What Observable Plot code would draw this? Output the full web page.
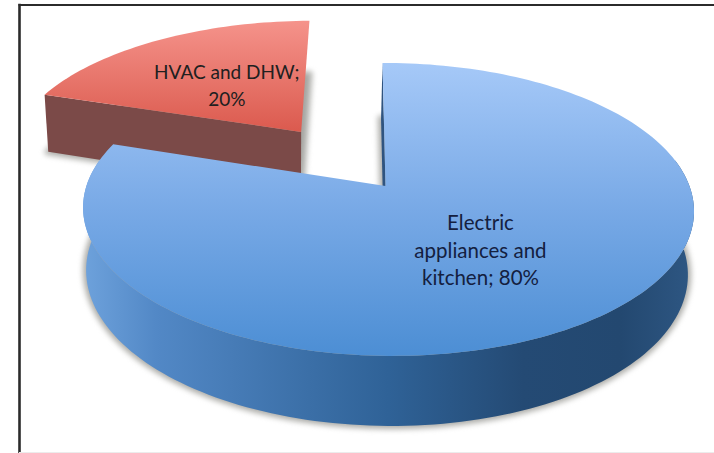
<!DOCTYPE html>
<html>
<head>
<meta charset="utf-8">
<script src="https://cdn.jsdelivr.net/npm/d3@7"></script>
<script src="https://cdn.jsdelivr.net/npm/@observablehq/plot@0.6"></script>
<style>
  html, body { margin: 0; padding: 0; background: #fff; }
  svg { display: block; }
</style>
</head>
<body>
<div id="chart"></div>
<script>
// Energy use by end use, as an exploded 3-D pie.
const shares = [20, 80];
const labels = [
  `HVAC and DHW;\n${shares[0]}%`,
  `Electric\nappliances and\nkitchen; ${shares[1]}%`
];
const explode = [0.5, 0];
const radii = [1.02, 1];

// Perspective of the tilted disc: the far side shrinks, the near side grows.
const tilt = 0.16, roll = -0.008, shear = 0.0115;
const yUnit = 142.7, xUnit = 301.5;          // px per plate unit at the centre
const thickness = 62;                        // px of wall height at w = 1

function project(u, v, lower = false) {
  const w = 1 + tilt * v + roll * u;
  let x = (u - shear * v) / w;
  let y = v / w;
  if (lower) {
    x = x * 0.985 - 1.5 / xUnit;
    y -= thickness / Math.pow(w, 0.7) / yUnit;
  }
  return {x, y};
}

const total = d3.sum(shares);
const firstAngle = -2 * Math.PI * shares[0] / total;
const arcs = d3.pie().sort(null).startAngle(firstAngle).endAngle(2 * Math.PI + firstAngle)(shares);

const slices = arcs.map((a, i) => {
  const mid = (a.startAngle + a.endAngle) / 2;
  const ou = explode[i] * Math.sin(mid), ov = explode[i] * Math.cos(mid);
  const r = radii[i];
  const steps = Math.ceil((a.endAngle - a.startAngle) / (Math.PI / 120));
  const angles = d3.range(steps + 1).map(k => a.startAngle + (a.endAngle - a.startAngle) * k / steps);
  const rim = (lower, list = angles) => list.map(t => project(ou + r * Math.sin(t), ov + r * Math.cos(t), lower));
  const hub = lower => project(ou, ov, lower);
  const nearSide = angles.filter(t => Math.cos(t) < 0.2);
  const labelR = explode[i] + 0.5;
  return {
    top: [hub(false), ...rim(false), hub(false)],
    base: [hub(true), ...rim(true), hub(true)],
    wall: [...rim(false, nearSide), ...rim(true, nearSide).reverse()],
    side: [rim(false)[0], hub(false), hub(true), rim(true)[0]],
    label: {...project(labelR * Math.sin(mid), labelR * Math.cos(mid)), text: labels[i]}
  };
});

// Gradients that the slice fills refer to by id.
function gradients() {
  const defs = d3.create("svg:defs");
  const add = (id, horizontal, stops) => {
    const g = defs.append("linearGradient").attr("id", id)
      .attr("x1", 0).attr("y1", 0)
      .attr("x2", horizontal ? 1 : 0).attr("y2", horizontal ? 0 : 1);
    stops.forEach(([o, c]) => g.append("stop").attr("offset", o).attr("stop-color", c));
  };
  add("blueTop", false, [[0, "#a6c9f8"], [0.5, "#78a9e6"], [1, "#4c8ed4"]]);
  add("blueWall", true, [[0, "#6ea2dc"], [0.12, "#5288c6"], [0.5, "#2f6297"], [0.72, "#244a74"], [0.88, "#234870"], [1, "#2e5783"]]);
  add("redTop", false, [[0, "#f5938b"], [1, "#db5a4e"]]);
  return defs.node();
}

const polygon = (points, fill) => Plot.line(points, {x: "x", y: "y", fill, stroke: "none"});
const shadow = points => Plot.line(points, {
  x: "x", y: "y", stroke: "#a4a4a0", strokeWidth: 8, strokeOpacity: 0.65, fill: "#a4a4a0", imageFilter: "blur(2.5px)"
});

const [red, blue] = slices;

const chart = Plot.plot({
  width: 714,
  height: 453,
  marginLeft: 19,
  marginTop: 4.5,
  marginRight: 0,
  marginBottom: 1,
  x: {domain: [-366 / xUnit, 329 / xUnit], axis: null},
  y: {domain: [-266.5 / yUnit, 181 / yUnit], axis: null},
  marks: [
    gradients,
    Plot.frame({anchor: "left", stroke: "#2b2b2b", strokeWidth: 2.6, strokeOpacity: 1}),
    Plot.frame({anchor: "top", stroke: "#2b2b2b", strokeWidth: 1.8, strokeOpacity: 1}),
    Plot.frame({anchor: "bottom", stroke: "#ececec", strokeWidth: 1, strokeOpacity: 1}),
    shadow(red.base),
    shadow(blue.base),
    polygon(red.side, "#7b4a48"),
    polygon(red.top, "url(#redTop)"),
    polygon(blue.side, "#2f5480"),
    polygon(blue.wall, "url(#blueWall)"),
    polygon(blue.top, "url(#blueTop)"),
    Plot.text([red.label], {
      x: "x", y: "y", text: "text", fill: "#20201f",
      fontFamily: "Lato", fontSize: 19, lineHeight: 1.38, textAnchor: "middle"
    }),
    Plot.text([blue.label], {
      x: "x", y: "y", text: "text", fill: "#14203f", dx: -1.5, dy: 1,
      fontFamily: "Lato", fontSize: 20.5, lineHeight: 1.34, textAnchor: "middle"
    })
  ]
});
document.getElementById("chart").append(chart);
</script>
</body>
</html>
